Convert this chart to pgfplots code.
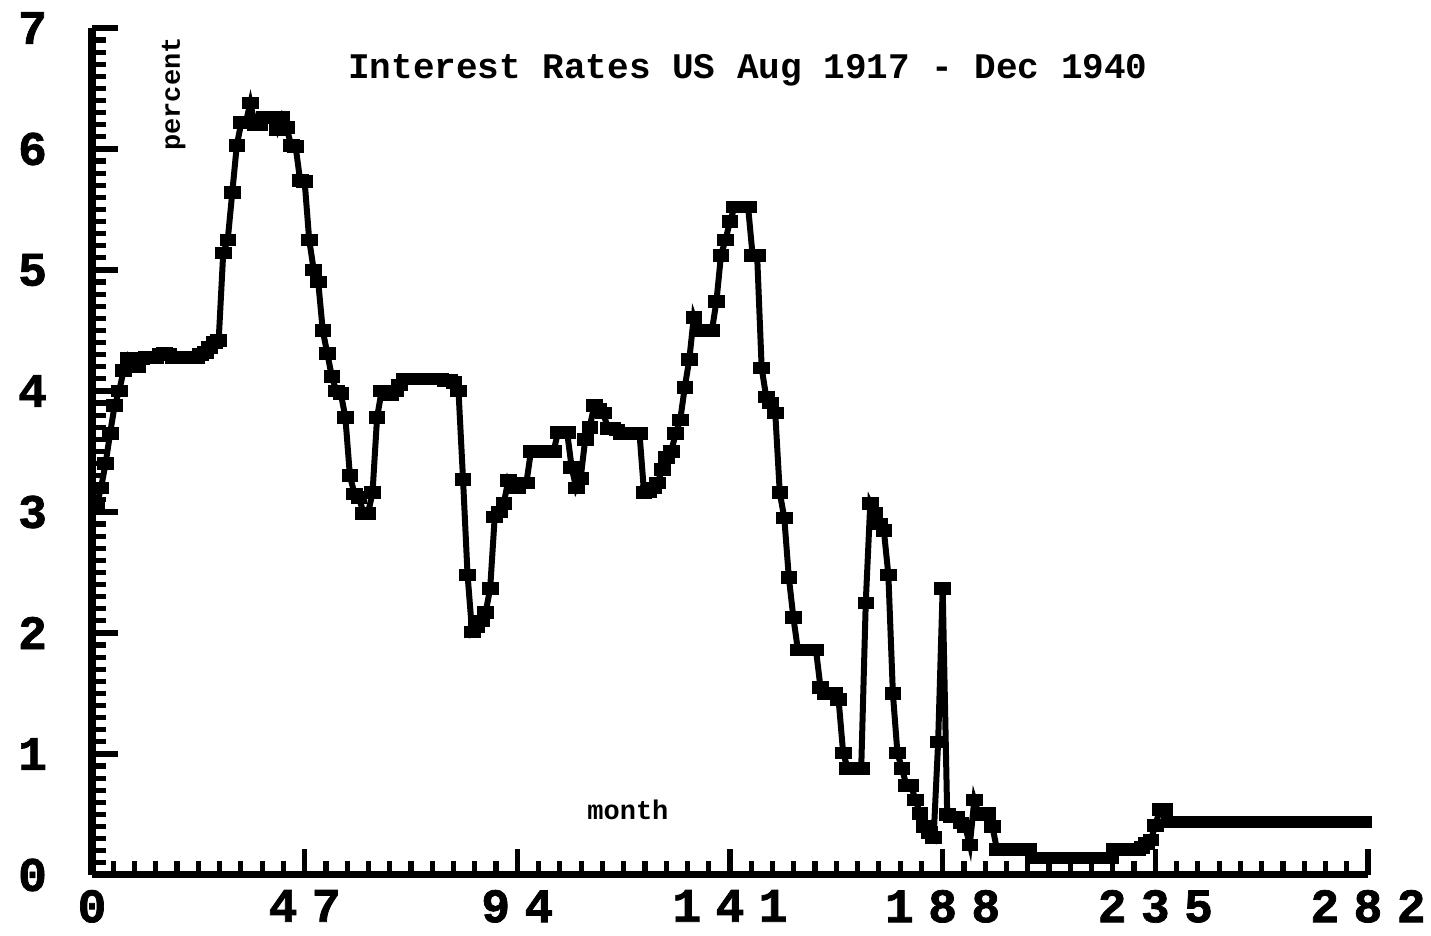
\documentclass[border=0pt]{standalone}
\usepackage{fontspec}
\setmainfont{Liberation Mono}
\newfontfamily\tickfont[LetterSpace=30, BoldFeatures={FakeBold=1.5}]{Liberation Mono}
\newfontfamily\ytickfont[BoldFeatures={FakeBold=1.5}]{Liberation Mono}
\usepackage{pgfplots}
\pgfplotsset{compat=1.18}
\begin{document}
\begin{tikzpicture}
\path[use as bounding box] (-46pt,-30.5pt) rectangle (669.5pt,437.5pt);
\begin{axis}[
  scale only axis, width=638pt, height=423.5pt,
  xmin=0, xmax=282, ymin=0, ymax=7,
  axis x line=bottom, axis y line=left,
  axis line style={line width=3.5pt, -},
  every outer x axis line/.append style={line width=3.5pt},
  every outer y axis line/.append style={line width=4pt},
  tick style={line width=2.6pt, black},
  major tick length=13pt, minor tick length=7pt,
  tick align=inside,
  xtick={0,47,94,141,188,235,282},
  xticklabels={0,47,94,141,188,235,282},
  ytick={0,1,2,3,4,5,6,7},
  yticklabels={0,1,2,3,4,5,6,7},
  minor x tick num=9, minor y tick num=9,
  xticklabel style={font={\tickfont\bfseries\fontsize{24}{26}\selectfont}, yshift=-4pt},
  yticklabel style={font={\ytickfont\bfseries\fontsize{24}{26}\selectfont}, xshift=-19pt},
  clip=false,
]
\addplot[black, line width=3pt, mark=square*, mark size=2.9pt,
  mark options={xscale=1.35, line width=0.4pt, fill=black}] coordinates {
(1,3.05)(2,3.2)(3,3.4)(4,3.65)(5,3.88)(6,4.0)(7,4.17)(8,4.27)(9,4.2)(10,4.2)
(11,4.27)(12,4.28)(13,4.28)(14,4.28)(15,4.3)(16,4.31)(17,4.3)(18,4.28)(19,4.28)(20,4.28)
(21,4.28)(22,4.28)(23,4.28)(24,4.3)(25,4.32)(26,4.36)(27,4.4)(28,4.42)(29,5.14)(30,5.25)
(31,5.64)(32,6.03)(33,6.22)(34,6.22)(35,6.38)(36,6.2)(37,6.2)(38,6.26)(39,6.26)(40,6.26)
(41,6.16)(42,6.26)(43,6.18)(44,6.03)(45,6.02)(46,5.74)(47,5.73)(48,5.25)(49,5.0)(50,4.9)
(51,4.5)(52,4.31)(53,4.12)(54,4.0)(55,3.98)(56,3.78)(57,3.3)(58,3.15)(59,3.12)(60,2.99)
(61,2.99)(62,3.16)(63,3.78)(64,4.0)(65,3.97)(66,3.97)(67,4.0)(68,4.05)(69,4.1)(70,4.1)
(71,4.1)(72,4.1)(73,4.1)(74,4.1)(75,4.1)(76,4.1)(77,4.1)(78,4.09)(79,4.09)(80,4.07)
(81,4.0)(82,3.27)(83,2.48)(84,2.01)(85,2.05)(86,2.1)(87,2.17)(88,2.37)(89,2.96)(90,3.0)
(91,3.07)(92,3.26)(93,3.2)(94,3.2)(95,3.24)(96,3.24)(97,3.5)(98,3.5)(99,3.5)(100,3.5)
(101,3.5)(102,3.5)(103,3.66)(104,3.66)(105,3.66)(106,3.37)(107,3.2)(108,3.28)(109,3.6)(110,3.7)
(111,3.88)(112,3.85)(113,3.82)(114,3.69)(115,3.69)(116,3.68)(117,3.65)(118,3.65)(119,3.65)(120,3.65)
(121,3.65)(122,3.16)(123,3.17)(124,3.2)(125,3.24)(126,3.35)(127,3.45)(128,3.5)(129,3.65)(130,3.76)
(131,4.03)(132,4.26)(133,4.61)(134,4.5)(135,4.5)(136,4.5)(137,4.5)(138,4.74)(139,5.12)(140,5.25)
(141,5.4)(142,5.52)(143,5.52)(144,5.52)(145,5.52)(146,5.12)(147,5.12)(148,4.19)(149,3.95)(150,3.9)
(151,3.82)(152,3.16)(153,2.95)(154,2.46)(155,2.13)(156,1.86)(157,1.86)(158,1.86)(159,1.86)(160,1.86)
(161,1.55)(162,1.5)(163,1.5)(164,1.5)(165,1.45)(166,1.01)(167,0.88)(168,0.88)(169,0.88)(170,0.88)
(171,2.25)(172,3.07)(173,2.99)(174,2.9)(175,2.85)(176,2.48)(177,1.5)(178,1.01)(179,0.88)(180,0.74)
(181,0.74)(182,0.62)(183,0.51)(184,0.4)(185,0.35)(186,0.31)(187,1.1)(188,2.37)(189,0.5)(190,0.48)
(191,0.48)(192,0.43)(193,0.4)(194,0.25)(195,0.62)(196,0.5)(197,0.5)(198,0.51)(199,0.4)(200,0.21)
(201,0.21)(202,0.21)(203,0.21)(204,0.21)(205,0.21)(206,0.21)(207,0.21)(208,0.14)(209,0.14)(210,0.14)
(211,0.14)(212,0.14)(213,0.14)(214,0.14)(215,0.14)(216,0.14)(217,0.14)(218,0.14)(219,0.14)(220,0.14)
(221,0.14)(222,0.14)(223,0.14)(224,0.14)(225,0.14)(226,0.21)(227,0.21)(228,0.21)(229,0.21)(230,0.21)
(231,0.21)(232,0.23)(233,0.26)(234,0.29)(235,0.41)(236,0.54)(237,0.54)(238,0.44)(239,0.44)(240,0.44)
(241,0.44)(242,0.44)(243,0.44)(244,0.44)(245,0.44)(246,0.44)(247,0.44)(248,0.44)(249,0.44)(250,0.44)
(251,0.44)(252,0.44)(253,0.44)(254,0.44)(255,0.44)(256,0.44)(257,0.44)(258,0.44)(259,0.44)(260,0.44)
(261,0.44)(262,0.44)(263,0.44)(264,0.44)(265,0.44)(266,0.44)(267,0.44)(268,0.44)(269,0.44)(270,0.44)
(271,0.44)(272,0.44)(273,0.44)(274,0.44)(275,0.44)(276,0.44)(277,0.44)(278,0.44)(279,0.44)(280,0.44)
(281,0.44)
};
\node[font={\bfseries\fontsize{18}{20}\selectfont}] at (rel axis cs:0.514,0.950) {Interest Rates US Aug 1917 - Dec 1940};
\node[rotate=90, font={\bfseries\fontsize{13.5}{14}\selectfont}] at (rel axis cs:0.064,0.922) {percent};
\node[font={\bfseries\fontsize{13.5}{14}\selectfont}] at (rel axis cs:0.42,0.077) {month};
\end{axis}
\end{tikzpicture}
\end{document}
